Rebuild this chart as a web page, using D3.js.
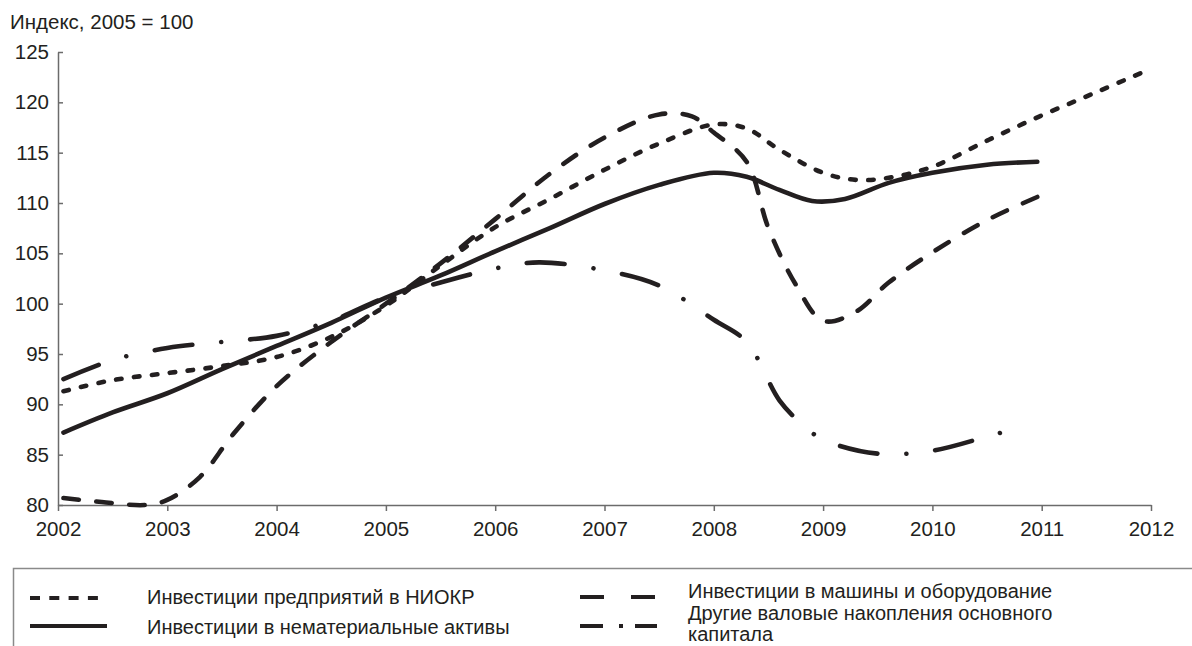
<!DOCTYPE html>
<html>
<head>
<meta charset="utf-8">
<script src="https://cdn.jsdelivr.net/npm/d3@7"></script>
<style>
  html, body { margin: 0; padding: 0; background: #fff; }
  svg { display: block; font-family: "Liberation Sans", Arial, sans-serif; }
</style>
</head>
<body>
<svg id="chart" width="1192" height="646"></svg>
<script>
// ---- data ----
const xTickYears = [2002, 2003, 2004, 2005, 2006, 2007, 2008, 2009, 2010, 2011, 2012];
const yTickValues = [80, 85, 90, 95, 100, 105, 110, 115, 120, 125];
const yAxisTitle = "Индекс, 2005 = 100";

const rdYears  = [2002.05, 2002.5, 2003, 2003.5, 2004, 2004.5, 2005, 2005.5, 2006, 2006.5, 2007, 2007.5, 2008, 2008.3, 2008.6, 2009, 2009.3, 2009.6, 2010, 2010.5, 2011, 2011.5, 2011.97];
const rdValues = [91.3, 92.4, 93.1, 93.8, 94.7, 96.7, 99.8, 103.8, 107.6, 110.4, 113.3, 115.9, 117.8, 117.4, 115.3, 113.0, 112.3, 112.5, 113.6, 116.2, 118.7, 121.0, 123.2];

const intYears  = [2002.05, 2002.5, 2003, 2003.5, 2004, 2004.5, 2005, 2005.5, 2006, 2006.5, 2007, 2007.5, 2008, 2008.3, 2008.6, 2008.9, 2009.2, 2009.6, 2010, 2010.5, 2010.96];
const intValues = [87.2, 89.2, 91.1, 93.5, 95.8, 98.1, 100.6, 102.8, 105.2, 107.5, 109.9, 111.8, 113.0, 112.6, 111.3, 110.2, 110.4, 112.0, 113.0, 113.8, 114.1];

const machYears  = [2002.05, 2002.4, 2002.8, 2003, 2003.3, 2003.6, 2004, 2004.5, 2005, 2005.5, 2006, 2006.5, 2007, 2007.5, 2007.8, 2008, 2008.3, 2008.5, 2008.75, 2009, 2009.3, 2009.6, 2010, 2010.5, 2010.96];
const machValues = [80.7, 80.3, 80.0, 80.5, 82.8, 87.0, 91.8, 96.2, 100.0, 104.0, 108.4, 112.9, 116.5, 118.8, 118.6, 117.0, 114.1, 107.5, 101.9, 98.3, 99.2, 102.1, 105.1, 108.3, 110.6];

const otherYears  = [2002.05, 2002.5, 2003, 2003.5, 2004, 2004.5, 2005, 2005.5, 2006, 2006.4, 2007, 2007.5, 2008, 2008.3, 2008.6, 2008.8, 2009, 2009.5, 2010, 2010.5, 2010.86];
const otherValues = [92.5, 94.4, 95.6, 96.2, 96.8, 98.3, 100.6, 102.1, 103.5, 104.1, 103.3, 101.8, 98.4, 96.2, 90.4, 88.1, 86.5, 85.1, 85.4, 86.8, 87.9];

const seriesNames = [
  "Инвестиции предприятий в НИОКР",
  "Инвестиции в нематериальные активы",
  "Инвестиции в машины и оборудование",
  ["Другие валовые накопления основного", "капитала"]
];

// ---- layout ----
const svg = d3.select("#chart");
const x = d3.scaleLinear().domain([2002, 2012]).range([58, 1151]);
const y = d3.scaleLinear().domain([80, 125]).range([505, 52]);
const ink = "#231f20";
const axisColor = "#6b6b6b";

// title
svg.append("text").attr("x", 10).attr("y", 29)
  .attr("font-size", 20.5).attr("fill", ink).text(yAxisTitle);

// y axis
const yAxis = svg.append("g").attr("transform", "translate(58,0)")
  .call(d3.axisLeft(y).tickValues(yTickValues).tickSizeInner(-5).tickSizeOuter(0).tickPadding(9));
// x axis
const xAxis = svg.append("g").attr("transform", "translate(0,505)")
  .call(d3.axisBottom(x).tickValues(xTickYears).tickFormat(d3.format("d")).tickSizeInner(6).tickSizeOuter(0).tickPadding(10));

[yAxis, xAxis].forEach(g => {
  g.select(".domain").attr("stroke", axisColor).attr("stroke-width", 1.5);
  g.selectAll(".tick line").attr("stroke", axisColor).attr("stroke-width", 1.5);
  g.selectAll(".tick text").attr("fill", ink).attr("font-size", 20.5)
    .attr("font-family", "Liberation Sans, Arial, sans-serif");
});

// lines
const line = d3.line()
  .x(d => x(d[0])).y(d => y(d[1]))
  .curve(d3.curveCatmullRom.alpha(0.5));

const seriesDefs = [
  { xs: otherYears, vs: otherValues, dash: "38 29 0.01 29" },
  { xs: machYears, vs: machValues, dash: "15.5 17.5" },
  { xs: rdYears, vs: rdValues, dash: "5.5 12.5" },
  { xs: intYears, vs: intValues, dash: null }
];

seriesDefs.forEach(s => {
  const pts = d3.zip(s.xs, s.vs);
  svg.append("path")
    .attr("d", line(pts))
    .attr("fill", "none")
    .attr("stroke", ink)
    .attr("stroke-width", 4.6)
    .attr("stroke-linecap", "round")
    .attr("stroke-linejoin", "round")
    .attr("stroke-dasharray", s.dash);
});

// legend
const leg = svg.append("g");
leg.append("rect")
  .attr("x", 13.5).attr("y", 568.5).attr("width", 1300).attr("height", 200)
  .attr("fill", "none").attr("stroke", "#8a8a8a").attr("stroke-width", 1.5);

const legItems = [
  { x1: 30, x2: 98, y: 598, dash: "10 9.3", tx: 147, ty: [604], text: [seriesNames[0]] },
  { x1: 30, x2: 107, y: 626, dash: null, tx: 147, ty: [634], text: [seriesNames[1]] },
  { x1: 580, x2: 655, y: 597, dash: "24 27", tx: 688, ty: [598], text: [seriesNames[2]] },
  { x1: 580, x2: 657, y: 626, dash: "23 16 4 12 22", tx: 688, ty: [619.5, 641], text: seriesNames[3] }
];

legItems.forEach(it => {
  leg.append("line")
    .attr("x1", it.x1).attr("x2", it.x2).attr("y1", it.y).attr("y2", it.y)
    .attr("stroke", ink).attr("stroke-width", 4)
    .attr("stroke-dasharray", it.dash);
  it.text.forEach((t, i) => {
    leg.append("text").attr("x", it.tx).attr("y", it.ty[i])
      .attr("font-size", 20).attr("fill", ink).text(t);
  });
});
</script>
</body>
</html>
